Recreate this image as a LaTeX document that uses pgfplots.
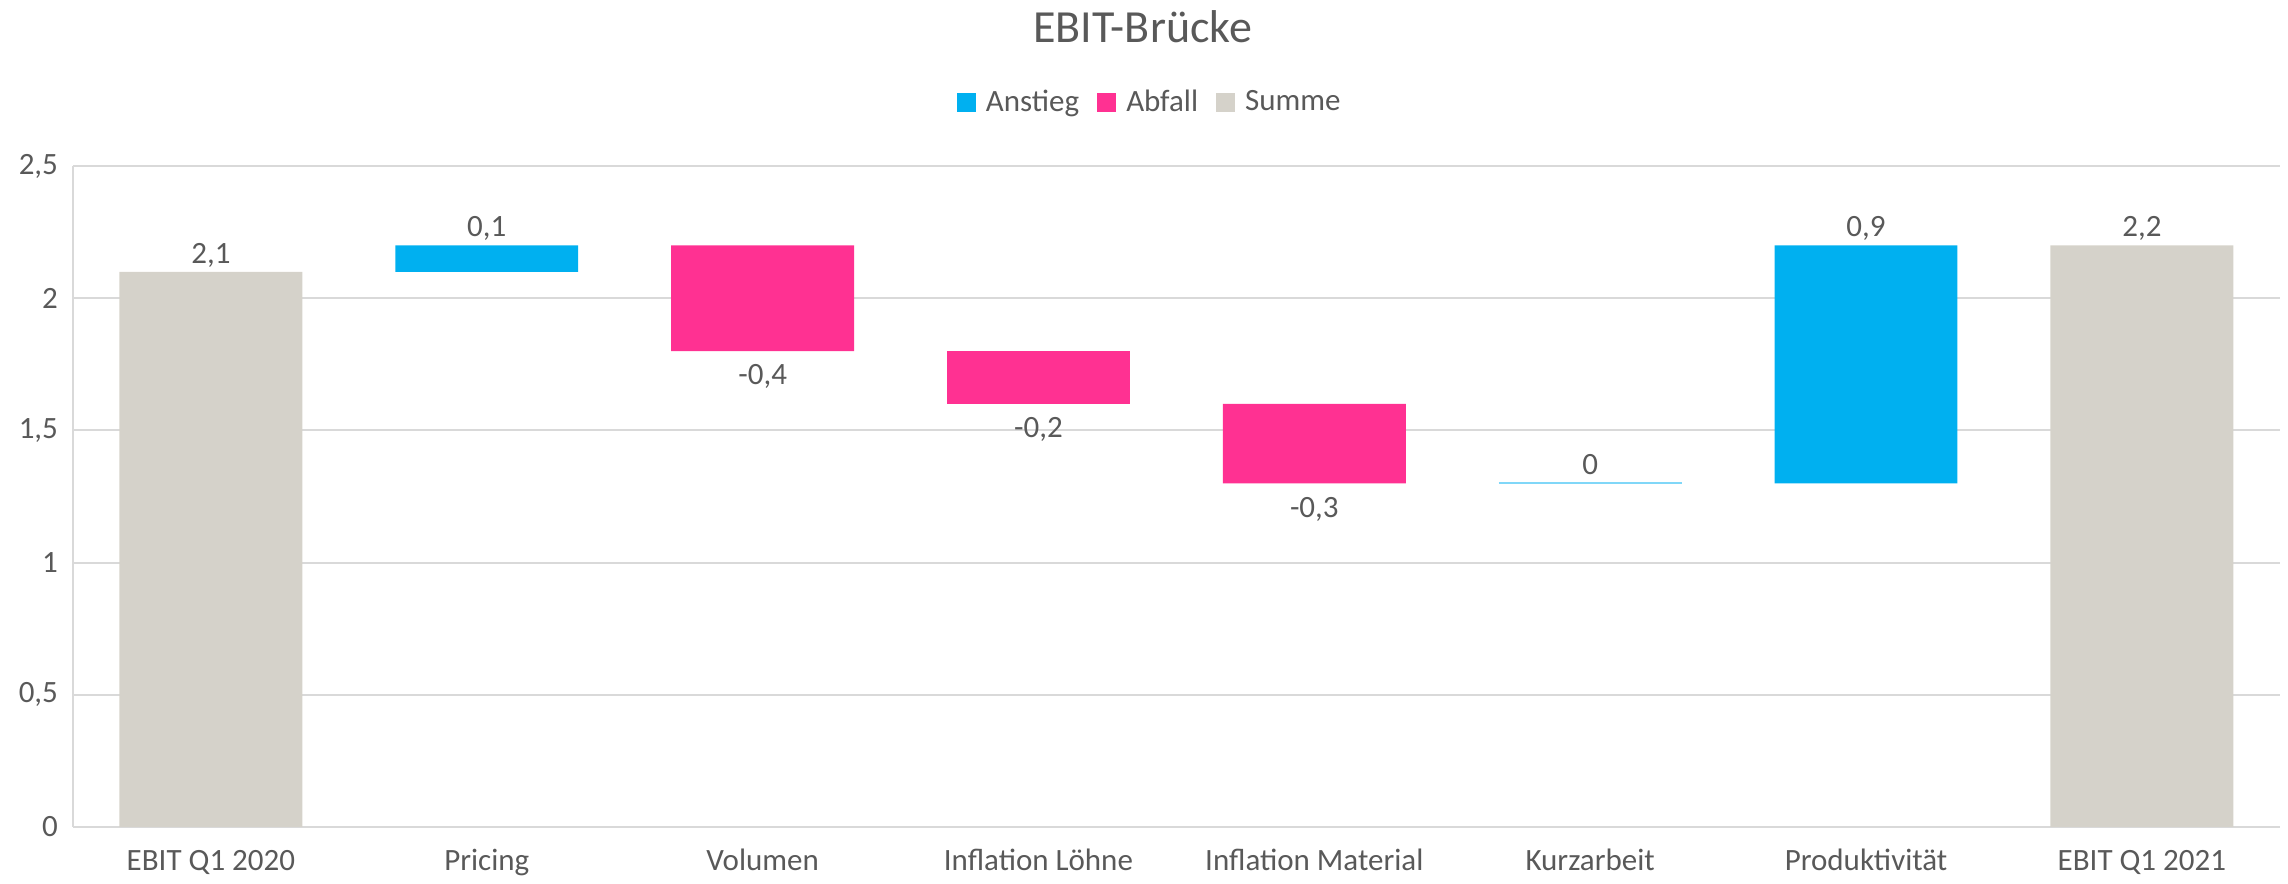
\documentclass[border=0pt]{standalone}
\usepackage{pgfplots}
\usepackage{pgfplotstable}
\pgfplotsset{compat=1.18}
\usepackage{fontspec}
\setmainfont{Carlito}
\definecolor{anstieg}{HTML}{00B0F0}
\definecolor{abfall}{HTML}{FF3192}
\definecolor{summe}{HTML}{D5D2CA}
\definecolor{txt}{HTML}{595959}
\definecolor{gridc}{HTML}{D9D9D9}

\pgfplotstableread{
x base anstieg abfall summe
0 0   0   0   2.1
1 2.1 0.1 0   0
2 1.8 0   0.4 0
3 1.6 0   0.2 0
4 1.3 0   0.3 0
5 1.3 0   0   0
6 1.3 0.9 0   0
7 0   0   0   2.2
}\bars

\pgfplotstableread{
x y label
0 2.1 2,1
1 2.2 0,1
5 1.3 0
6 2.2 0,9
7 2.2 2,2
}\labelsabove

\pgfplotstableread{
x y label
2 1.8 -0,4
3 1.6 -0,2
4 1.3 -0,3
}\labelsbelow

\pgfplotstableread{
x y
4.6685 1.3
5.3315 1.3
}\zeroline

\newcommand{\lblfont}{\fontsize{15.5}{18}\selectfont}

\pgfplotsset{
  basebox/.style={
    scale only axis, width=1103.5pt, height=330.5pt,
    xmin=-0.5, xmax=7.5, ymin=0, ymax=2.5,
  },
}

\begin{document}
\begin{tikzpicture}
\begin{axis}[
  basebox,
  ybar stacked,
  bar width=0.663,
  xtick={0,1,2,3,4,5,6,7},
  xticklabels={EBIT Q1 2020, Pricing, Volumen, Inflation Löhne, Inflation Material, Kurzarbeit, Produktivität, EBIT Q1 2021},
  ytick={0,0.5,1,1.5,2,2.5},
  /pgf/number format/use comma,
  /pgf/number format/assume math mode=true,
  ymajorgrids,
  grid style={draw=gridc, line width=1pt},
  major tick length=0pt,
  axis x line*=bottom,
  axis y line*=left,
  axis line style={draw=gridc, line width=1pt, -},
  tick label style={font=\lblfont, text=txt},
  xticklabel style={text height=10pt, text depth=3pt, yshift=-8.3pt},
  yticklabel style={xshift=-4pt},
  legend style={at={(axis description cs:0.4884,1.0968)}, anchor=center,
    draw=none, fill=none, font=\lblfont, text=txt,
    /tikz/every odd column/.append style={column sep=3pt},
    /tikz/every even column/.append style={column sep=7pt}},
  legend columns=-1,
  legend image code/.code={\fill[#1] (0pt,-4.75pt) rectangle (9.5pt,4.75pt);},
]
\addplot[fill=none, draw=none, forget plot] table[x=x, y=base] {\bars};
\addplot[fill=anstieg, draw=none] table[x=x, y=anstieg] {\bars};
\addplot[fill=abfall, draw=none] table[x=x, y=abfall] {\bars};
\addplot[fill=summe, draw=none] table[x=x, y=summe] {\bars};
\legend{Anstieg, Abfall, Summe}
\end{axis}
\begin{axis}[basebox, hide axis, clip=false]
\addplot[draw=anstieg!50!white, line width=1pt] table[x=x, y=y] {\zeroline};
\addplot[draw=none, mark=none, nodes near coords, point meta=explicit symbolic,
  nodes near coords align=above,
  every node near coord/.append style={anchor=south, inner sep=0pt, text height=10pt, text depth=0pt, yshift=4pt, font=\lblfont, text=txt}]
  table[x=x, y=y, meta=label] {\labelsabove};
\addplot[draw=none, mark=none, nodes near coords, point meta=explicit symbolic,
  nodes near coords align=below,
  every node near coord/.append style={anchor=north, inner sep=0pt, text height=10pt, text depth=0pt, yshift=-6.75pt, font=\lblfont, text=txt}]
  table[x=x, y=y, meta=label] {\labelsbelow};
\end{axis}
\node[font=\fontsize{23}{28}\selectfont, text=txt, text height=14.8pt, text depth=0pt, inner sep=0pt] at (534.75pt,399.5pt) {EBIT-Brücke};
\pgfresetboundingbox
\path (-36.5pt,-28.5pt) rectangle (1107.5pt,413.5pt);
\end{tikzpicture}
\end{document}
